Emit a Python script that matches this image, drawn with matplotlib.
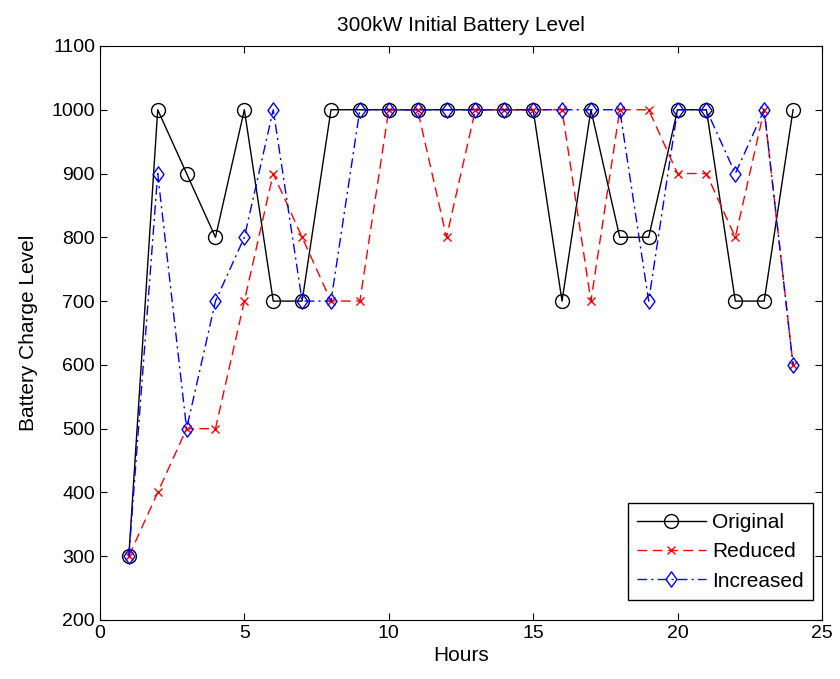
import matplotlib
matplotlib.use("Agg")
import matplotlib.pyplot as plt
from matplotlib.path import Path

plt.rcParams['font.family'] = ['Liberation Sans', 'DejaVu Sans']

hours = list(range(1, 25))
original = [300, 1000, 900, 800, 1000, 700, 700, 1000, 1000, 1000, 1000, 1000,
            1000, 1000, 1000, 700, 1000, 800, 800, 1000, 1000, 700, 700, 1000]
reduced = [300, 400, 500, 500, 700, 900, 800, 700, 700, 1000, 1000, 800,
           1000, 1000, 1000, 1000, 700, 1000, 1000, 900, 900, 800, 1000, 600]
increased = [300, 900, 500, 700, 800, 1000, 700, 700, 1000, 1000, 1000, 1000,
             1000, 1000, 1000, 1000, 1000, 1000, 700, 1000, 1000, 900, 1000, 600]

diamond = Path([(0, 1), (0.72, 0), (0, -1), (-0.72, 0), (0, 1)],
               [Path.MOVETO, Path.LINETO, Path.LINETO, Path.LINETO, Path.CLOSEPOLY])

fig = plt.figure(figsize=(8.4, 6.79), dpi=100)
ax = fig.add_axes([0.119, 0.0869, 0.8595, 0.8454])

ax.plot(hours, original, color='black', linestyle='-', marker='o', markersize=10,
        markerfacecolor='none', markeredgecolor='black', linewidth=1.0, label='Original')
ax.plot(hours, reduced, color='red', linestyle=(0, (7, 4)), marker='x', markersize=6,
        markeredgecolor='red', linewidth=1.0, label='Reduced')
ax.plot(hours, increased, color='blue', linestyle=(0, (7, 3, 1.5, 3)), marker=diamond,
        markersize=11, markerfacecolor='none', markeredgecolor='blue', linewidth=1.0,
        label='Increased')

ax.set_xlim(0, 25)
ax.set_ylim(200, 1100)
ax.set_xticks([0, 5, 10, 15, 20, 25])
ax.set_yticks(list(range(200, 1101, 100)))
ax.tick_params(direction='in', top=True, right=True, labelsize=14, length=5)
ax.set_title('300kW Initial Battery Level', fontsize=15, pad=11)
ax.set_xlabel('Hours', fontsize=15, labelpad=3)
ax.set_ylabel('Battery Charge Level', fontsize=15, labelpad=10)

leg = ax.legend(loc='lower right', bbox_to_anchor=(0.9875, 0.0348), borderaxespad=0,
                fontsize=15, fancybox=False, framealpha=1, edgecolor='black',
                handlelength=3.3, handletextpad=0.3, labelspacing=0.5, borderpad=0.45)
leg.get_frame().set_linewidth(1.0)

fig.savefig('out.png', dpi=100)
